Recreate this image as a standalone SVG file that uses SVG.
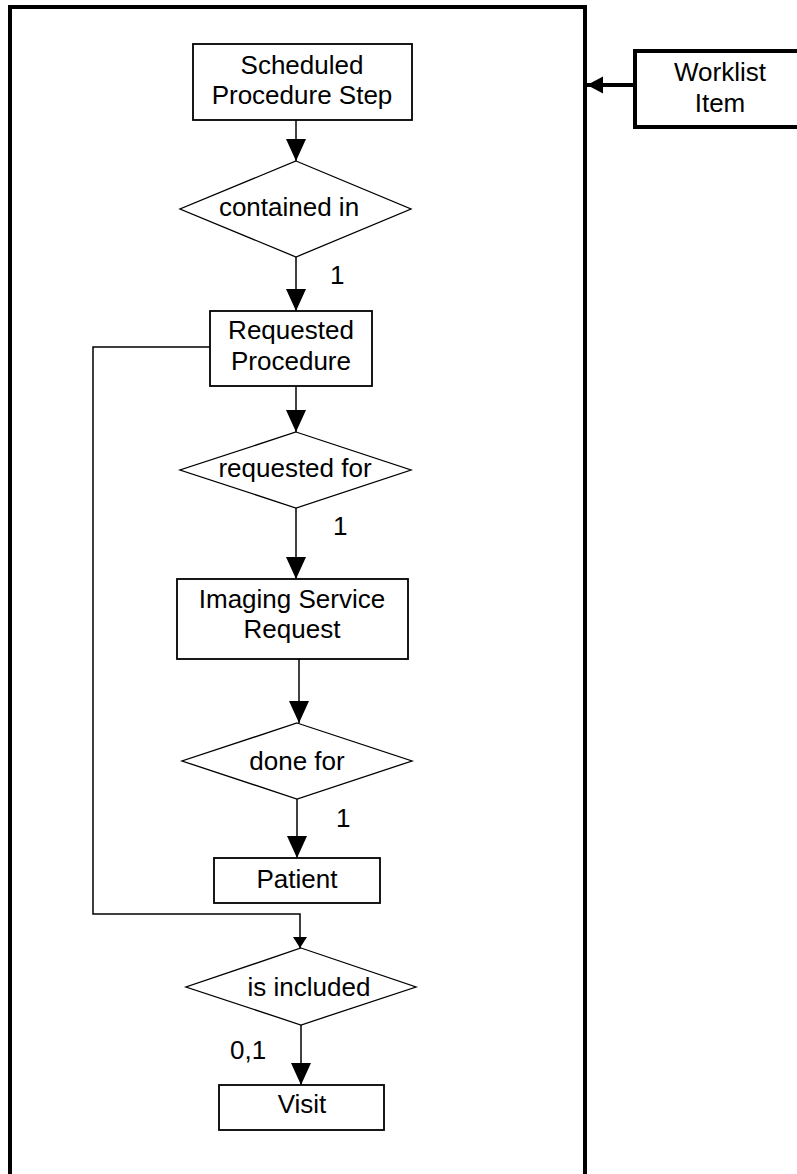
<svg xmlns="http://www.w3.org/2000/svg" width="797" height="1174" viewBox="0 0 797 1174">
<style>
  .box { fill: #fff; stroke: #000; stroke-width: 1.8; }
  .dia { fill: #fff; stroke: #000; stroke-width: 1.3; }
  .lbl { font-family: "Liberation Sans", Arial, sans-serif; font-size: 26px; fill: #000; text-anchor: middle; }
  .card { font-family: "Liberation Sans", Arial, sans-serif; font-size: 26px; fill: #000; }
  .con { fill: none; stroke: #000; stroke-width: 1.5; }
</style>
<defs>
  <marker id="big" markerUnits="userSpaceOnUse" markerWidth="23" markerHeight="21" refX="22" refY="10" orient="auto">
    <path d="M0,0 L22,10 L0,20 Z" fill="#000"/>
  </marker>
  <marker id="small" markerUnits="userSpaceOnUse" markerWidth="12" markerHeight="15" refX="11" refY="7" orient="auto">
    <path d="M0,0 L11,7 L0,14 Z" fill="#000"/>
  </marker>
  <marker id="wl" markerUnits="userSpaceOnUse" markerWidth="17" markerHeight="18" refX="16" refY="8.5" orient="auto">
    <path d="M0,0 L16,8.5 L0,17 Z" fill="#000"/>
  </marker>
</defs>
<rect width="797" height="1174" fill="#fff"/>

<g id="outer">
  <path d="M10,1180 V7 H585 V1180" fill="none" stroke="#000" stroke-width="4"/>
</g>

<g id="connectors">
  <line class="con" x1="296" y1="120" x2="296" y2="161" marker-end="url(#big)"/>
  <line class="con" x1="296" y1="257" x2="296" y2="311" marker-end="url(#big)"/>
  <line class="con" x1="296" y1="386" x2="296" y2="432" marker-end="url(#big)"/>
  <line class="con" x1="296" y1="508" x2="296" y2="579" marker-end="url(#big)"/>
  <line class="con" x1="299" y1="659" x2="299" y2="723" marker-end="url(#big)"/>
  <line class="con" x1="297" y1="799" x2="297" y2="858" marker-end="url(#big)"/>
  <path class="con" d="M210,347 H93 V914 H300 V948" marker-end="url(#small)"/>
  <line class="con" x1="301" y1="1025" x2="301" y2="1085" marker-end="url(#big)"/>
  <line x1="635" y1="85" x2="587" y2="85" stroke="#000" stroke-width="4" marker-end="url(#wl)"/>
  <text class="card" x="330" y="284">1</text>
  <text class="card" x="333" y="535">1</text>
  <text class="card" x="336" y="827">1</text>
  <text class="card" x="230" y="1059">0,1</text>
</g>

<g id="sps">
  <rect class="box" x="193" y="44" width="219" height="76"/>
  <text class="lbl" x="302" y="74">Scheduled</text>
  <text class="lbl" x="302" y="104">Procedure Step</text>
</g>

<g id="contained-in">
  <polygon class="dia" points="296,161 411,209 296,257 180,209"/>
  <text class="lbl" x="289" y="216">contained in</text>
</g>

<g id="requested-procedure">
  <rect class="box" x="210" y="311" width="162" height="75"/>
  <text class="lbl" x="291" y="339">Requested</text>
  <text class="lbl" x="291" y="370">Procedure</text>
</g>

<g id="requested-for">
  <polygon class="dia" points="296,432 411,470 296,508 180,470"/>
  <text class="lbl" x="295" y="477">requested for</text>
</g>

<g id="imaging-service-request">
  <rect class="box" x="177" y="579" width="231" height="80"/>
  <text class="lbl" x="292" y="608">Imaging Service</text>
  <text class="lbl" x="292" y="638">Request</text>
</g>

<g id="done-for">
  <polygon class="dia" points="297,723 412,761 297,799 182,761"/>
  <text class="lbl" x="297" y="770">done for</text>
</g>

<g id="patient">
  <rect class="box" x="214" y="858" width="166" height="45"/>
  <text class="lbl" x="297" y="888">Patient</text>
</g>

<g id="is-included">
  <polygon class="dia" points="301,948 416,987 301,1025 186,987"/>
  <text class="lbl" x="309" y="996">is included</text>
</g>

<g id="visit">
  <rect class="box" x="219" y="1085" width="165" height="45"/>
  <text class="lbl" x="302" y="1113">Visit</text>
</g>

<g id="worklist-item">
  <rect x="635" y="51" width="175" height="76" fill="#fff" stroke="#000" stroke-width="4"/>
  <text class="lbl" x="720" y="81">Worklist</text>
  <text class="lbl" x="720" y="112">Item</text>
</g>
</svg>
